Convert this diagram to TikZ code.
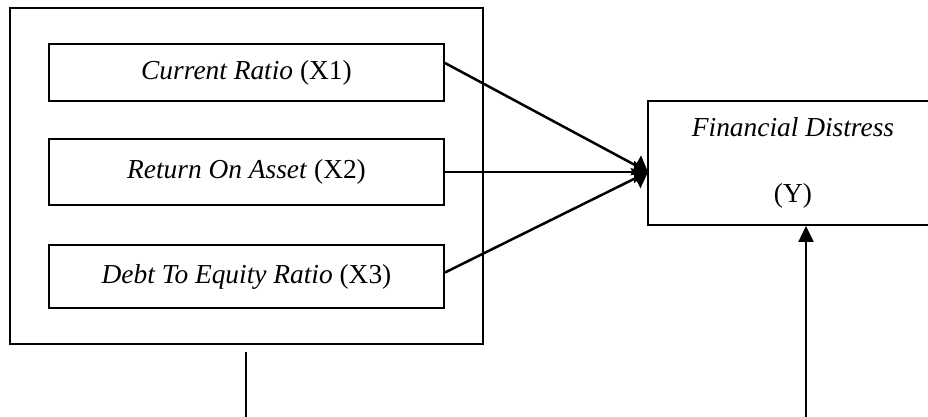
\documentclass[tikz,border=0pt]{standalone}
\usepackage{fontspec}
\setmainfont{Liberation Serif}
\usetikzlibrary{arrows.meta}

\begin{document}
\begin{tikzpicture}[x=0.5pt,y=-0.5pt,line width=1pt,
  var/.style={draw,minimum width=197.5pt,inner sep=0pt,font=\fontsize{13.7}{15}\selectfont},
  feed/.style={line width=1.25pt,-{Triangle[length=7pt,width=11pt]}}]
  \useasboundingbox (0,0) rectangle (928,417);
  \node [draw,minimum width=236.5pt,minimum height=168pt] at (246.5,176) (grp) {};
  \node [var,minimum height=28.5pt] at (246.5,72.5) (cr) {\textit{Current Ratio} (X1)};
  \node [var,minimum height=33pt] at (246.5,172) (roa) {\textit{Return On Asset} (X2)};
  \node [var,minimum height=31.5pt] at (246.5,277) (der) {\textit{Debt To Equity Ratio} (X3)};
  \node [draw,minimum width=145pt,minimum height=62pt,align=center,
    font=\fontsize{13.7}{15}\selectfont] at (793,163) (fd) {\textit{Financial Distress}\\[18pt](Y)};
  \coordinate (conv) at (648,172);
  \draw [feed] ([yshift=4.75pt]cr.east) -- (conv);
  \draw [feed] (roa.east) -- (conv);
  \draw [feed] ([yshift=2.25pt]der.east) -- (conv);
  \coordinate (stub) at (246,352);
  \coordinate (stubend) at (246,417);
  \draw (stub) -- (stubend);
  \coordinate (src) at (806,417);
  \draw [line width=1.25pt,-{Triangle[length=8pt,width=7.5pt]}] (src) -- (src |- fd.south);
\end{tikzpicture}
\end{document}
